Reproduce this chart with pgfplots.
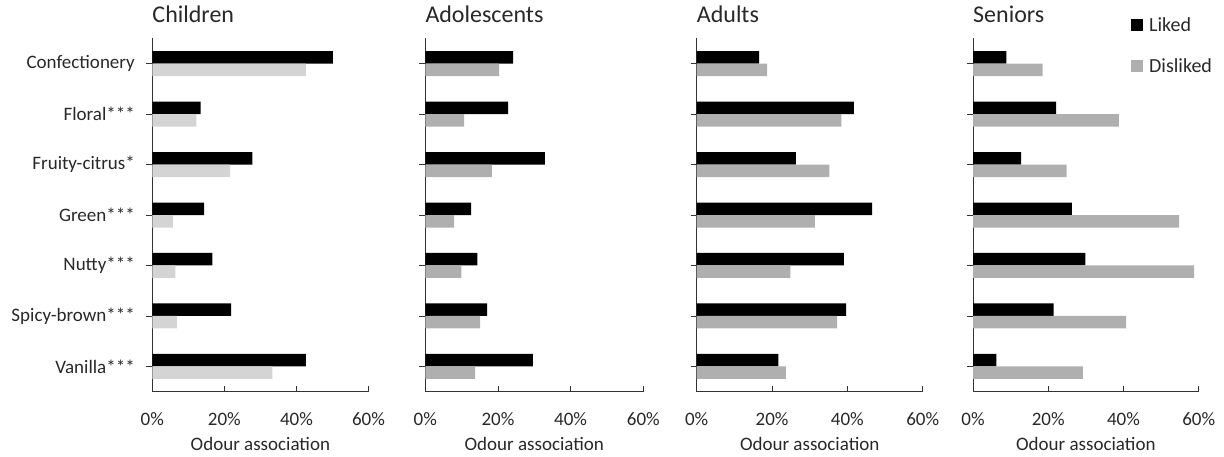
\documentclass[border=0pt]{standalone}
\usepackage{pgfplots}
\pgfplotsset{compat=1.18}
\usepackage{fontspec}
\setmainfont{Carlito}
\definecolor{dis}{RGB}{175,175,175}
\definecolor{disc}{RGB}{212,212,212}
\definecolor{txt}{RGB}{40,40,40}
\pgfplotsset{
  panel/.style={
    scale only axis, height=353.4pt,
    xmin=0, xmax=60, ymin=-0.5, ymax=6.5,
    axis lines*=left,
    axis line style={-, draw=black!80, line width=0.8pt},
    xtick={0,20,40,60}, xticklabels={0\%,20\%,40\%,60\%},
    ytick={0,1,2,3,4,5,6},
    xtick align=inside, ytick align=outside,
    major tick length=6pt,
    tick style={draw=black!80, line width=0.8pt},
    xticklabel style={font=\fontsize{19}{22}\selectfont, text=txt, yshift=-17pt},
    yticklabel style={font=\fontsize{19}{22}\selectfont, text=txt, xshift=-8pt},
    xlabel={Odour association},
    xlabel style={font=\fontsize{19}{22}\selectfont, text=txt, yshift=-5pt},
    title style={at={(0,1)}, anchor=base west, yshift=10pt, inner sep=0pt, font=\fontsize{24}{28}\selectfont, text=txt},
    xbar, bar width=12.5pt,
    anchor=south west,
  },
  liked/.style={fill=black, draw=none, bar shift=6.25pt},
  disliked/.style={fill=#1, draw=none, bar shift=-6.25pt},
}
\begin{document}
\begin{tikzpicture}
\path[use as bounding box] (0,0) rectangle (1224pt,456pt);
% Children
\begin{axis}[panel, at={(152.3pt,64.3pt)}, width=216.2pt, title={Children},
  yticklabels={Vanilla***,Spicy-brown***,Nutty***,Green***,Fruity-citrus*,Floral***,Confectionery}]
\addplot[liked] coordinates {(50.1,6) (13.4,5) (27.8,4) (14.4,3) (16.7,2) (21.9,1) (42.6,0)};
\addplot[disliked=disc] coordinates {(42.6,6) (12.2,5) (21.6,4) (5.7,3) (6.4,2) (6.8,1) (33.3,0)};
\end{axis}
% Adolescents
\begin{axis}[panel, at={(425.3pt,64.3pt)}, width=218pt, title={Adolescents}, yticklabels={}]
\addplot[liked] coordinates {(24.2,6) (22.8,5) (32.9,4) (12.6,3) (14.3,2) (17.0,1) (29.6,0)};
\addplot[disliked=dis] coordinates {(20.3,6) (10.7,5) (18.3,4) (7.9,3) (9.9,2) (15.1,1) (13.7,0)};
\end{axis}
% Adults
\begin{axis}[panel, at={(696.7pt,64.3pt)}, width=226pt, title={Adults}, yticklabels={}]
\addplot[liked] coordinates {(16.6,6) (41.7,5) (26.3,4) (46.6,3) (39.1,2) (39.7,1) (21.7,0)};
\addplot[disliked=dis] coordinates {(18.7,6) (38.4,5) (35.2,4) (31.4,3) (24.9,2) (37.3,1) (23.7,0)};
\end{axis}
% Seniors
\begin{axis}[panel, at={(973pt,64.3pt)}, width=225.7pt, title={Seniors}, yticklabels={},
  legend image code/.code={\fill[#1] (0pt,-6pt) rectangle (12pt,6pt); \path (16pt,0pt);},
  legend style={draw=none, fill=none, at={(0.7,1.066)}, anchor=north west, inner sep=0pt,
    font=\fontsize{20}{23}\selectfont, text=txt, row sep=22pt,
    nodes={inner sep=2pt}},
  legend cell align=left]
\addplot[liked] coordinates {(8.9,6) (22.1,5) (12.8,4) (26.3,3) (29.9,2) (21.4,1) (6.2,0)};
\addplot[disliked=dis] coordinates {(18.5,6) (38.8,5) (24.9,4) (54.8,3) (58.8,2) (40.7,1) (29.2,0)};
\legend{Liked,Disliked}
\end{axis}
\end{tikzpicture}
\end{document}
